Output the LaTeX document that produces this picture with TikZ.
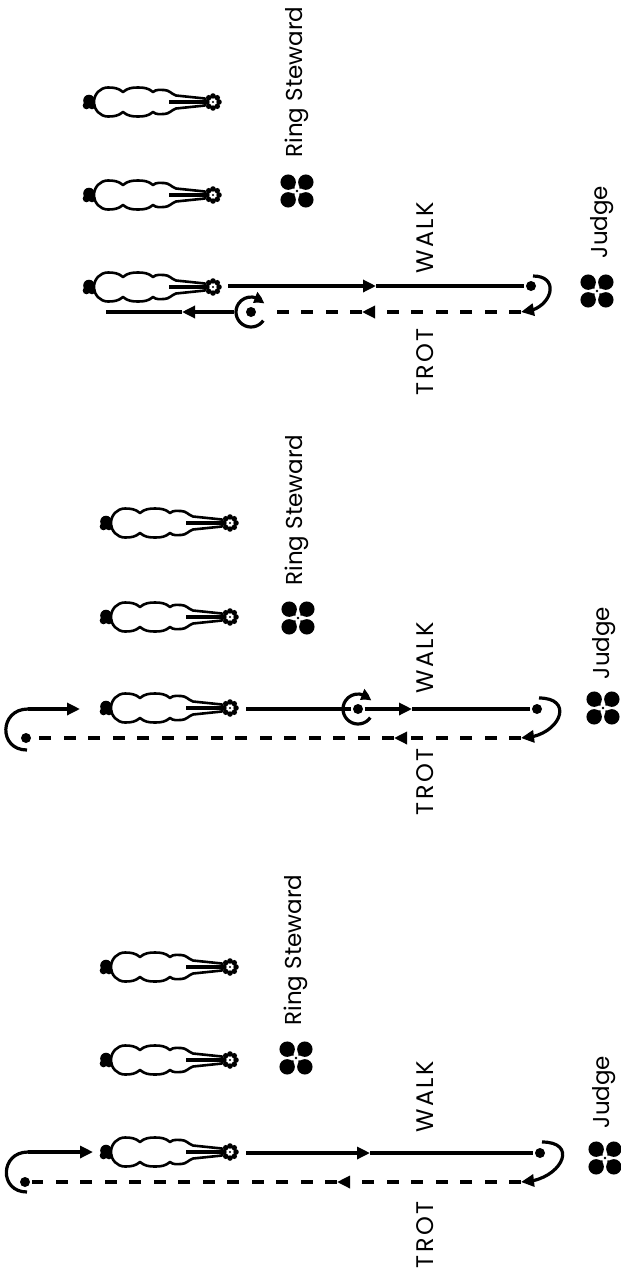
\documentclass[tikz,border=0pt]{standalone}
\usepackage{fontspec}
\setmainfont{Poppins}
\usetikzlibrary{arrows.meta,bending}

\tikzset{
  animal/.pic={
    % tail
    \fill (6,1.5) circle (5.8);
    \fill (3.5,-3.5) circle (3.8);
    \fill (9,-3.5) circle (3.8);
    % body
    \draw[line width=2.6pt,line join=round] (11,0) to[out=90,in=180] (25,14.5) to[out=0,in=140] (40,10)
      to[out=40,in=180] (55,14.5) to[out=0,in=140] (70,10) to[out=40,in=180] (81,12)
      to[out=0,in=160] (93,6.5) -- (122,3.5) -- (122,-3.5) -- (93,-6.5)
      to[out=-160,in=0] (81,-12) to[out=180,in=-40] (70,-10) to[out=-140,in=0] (55,-14.5)
      to[out=180,in=-40] (40,-10) to[out=-140,in=0] (25,-14.5) to[out=180,in=-90] (11,0) -- cycle;
    % lead
    \draw[line width=4.5pt] (86,0) -- (122,0);
    % head
    \foreach \a in {0,45,...,315} \fill (130,0) ++(\a:6) circle (2.8);
    \fill[white] (130,0) circle (3.4);
    \fill (130,0) circle (1.2);
  },
  official/.pic={
    \foreach \a in {45,135,225,315} {
      \fill[rotate=\a] (3.2,0) -- (12,7.2) -- (12,-7.2) -- cycle;
      \fill[rotate=\a] (12.5,0) circle (7.7);
    }
    \fill[white] (0,0) circle (3.2);
    \fill (0,0) circle (1.3);
  },
  spot/.style={circle,fill,inner sep=0pt,minimum size=10pt},
  ring/.style={circle,inner sep=0pt,minimum size=30pt},
  pointed/.style={-{Triangle[length=13pt,width=12pt]}},
  spin/.style={-{Triangle[length=11pt,width=11pt,bend]}},
  trot/.style={dash pattern=on 12pt off 12.5pt},
}

\begin{document}
\begin{tikzpicture}[x=1pt,y=1pt,line width=3.2pt]
\useasboundingbox (0,0) rectangle (621,-1272);

% top: walk, turn, trot back, spin on the spot
\pic at (83,-102) {animal};
\pic at (83,-195) {animal};
\pic at (83,-287) {animal};
\pic at (297,-191) {official};
\pic at (597,-291) {official};
\coordinate (s1) at (228,-286);
\coordinate (m1) at (376,-286);
\node[spot] (d1) at (531,-286) {};
\coordinate (u1) at (533,-276);
\coordinate (e1) at (521,-312);
\coordinate (n1) at (362,-312);
\node[spot] (c1) at (251,-312) {};
\node[ring] (o1) at (c1) {};
\coordinate (q1) at (182,-312);
\coordinate (f1) at (106,-312);

% middle: spin on the way out, turn, trot past the line
\pic at (100,-523) {animal};
\pic at (100,-617) {animal};
\pic at (100,-708) {animal};
\pic at (298,-618) {official};
\pic at (603,-708) {official};
\coordinate (s2) at (246,-709);
\node[spot] (c2) at (358,-709) {};
\node[ring] (o2) at (c2) {};
\coordinate (m2) at (412,-709);
\node[spot] (d2) at (537,-709) {};
\coordinate (u2) at (539,-698);
\coordinate (e2) at (521,-738);
\coordinate (n2) at (394,-738);
\node[spot] (l2) at (26,-738) {};
\coordinate (b2) at (27,-750);
\coordinate (h2) at (28,-709);
\coordinate (a2) at (80,-709);

% bottom: walk, turn, trot past the line, back in
\pic at (100,-967) {animal};
\pic at (100,-1060) {animal};
\pic at (100,-1152) {animal};
\pic at (296,-1058) {official};
\pic at (605,-1158) {official};
\coordinate (s3) at (246,-1153);
\coordinate (m3) at (370,-1153);
\node[spot] (d3) at (540,-1153) {};
\coordinate (u3) at (542,-1142);
\coordinate (e3) at (521,-1182);
\coordinate (n3) at (337,-1182);
\node[spot] (l3) at (25,-1182) {};
\coordinate (b3) at (27,-1192);
\coordinate (h3) at (28,-1152);
\coordinate (a3) at (93,-1152);

\begin{scope}[every node/.style={rotate=90,font=\fontsize{23}{26}\selectfont}]
\node (rs1) at (297,-82) {Ring Steward};
\node (j1) at (602,-222) {Judge};
\node (rs2) at (297,-510) {Ring Steward};
\node (j2) at (604,-643) {Judge};
\node (rs3) at (296,-950) {Ring Steward};
\node (j3) at (604,-1092) {Judge};
\end{scope}
\begin{scope}[every node/.style={rotate=90,font=\fontsize{24}{26}\selectfont\addfontfeatures{LetterSpace=10}}]
\node (w1) at (425,-238) {WALK};
\node (t1) at (425,-362) {TROT};
\node (w2) at (425,-658) {WALK};
\node (t2) at (425,-782) {TROT};
\node (w3) at (425,-1097) {WALK};
\node (t3) at (425,-1235) {TROT};
\end{scope}

\begin{scope}[every edge/.style={draw,line width=3.2pt}]
\path (s1) edge[pointed] (m1);
\path (m1) edge (d1);
\path (u1) edge[pointed,out=0,in=0,looseness=2] (e1);
\path (e1) edge[trot,pointed] (n1);
\path (n1) edge[trot] (o1);
\path (o1) edge[pointed] (q1);
\path (q1) edge (f1);

\path (s2) edge (c2);
\path (c2) edge[pointed] (m2);
\path (m2) edge (d2);
\path (u2) edge[pointed,out=0,in=0,looseness=2.2] (e2);
\path (e2) edge[trot,pointed] (n2);
\path (n2) edge[trot] (l2);
\path (b2) edge[out=180,in=180,looseness=1.8] (h2);
\path (h2) edge[pointed] (a2);

\path (s3) edge[pointed] (m3);
\path (m3) edge (d3);
\path (u3) edge[pointed,out=0,in=0,looseness=2.2] (e3);
\path (e3) edge[trot,pointed] (n3);
\path (n3) edge[trot] (l3);
\path (b3) edge[out=180,in=180,looseness=1.8] (h3);
\path (h3) edge[pointed] (a3);
\end{scope}

\draw[spin] ([shift={(-35:15)}]o1.center) arc[start angle=-35,end angle=-328,radius=15];
\draw[spin] ([shift={(-35:15)}]o2.center) arc[start angle=-35,end angle=-328,radius=15];
\end{tikzpicture}
\end{document}
